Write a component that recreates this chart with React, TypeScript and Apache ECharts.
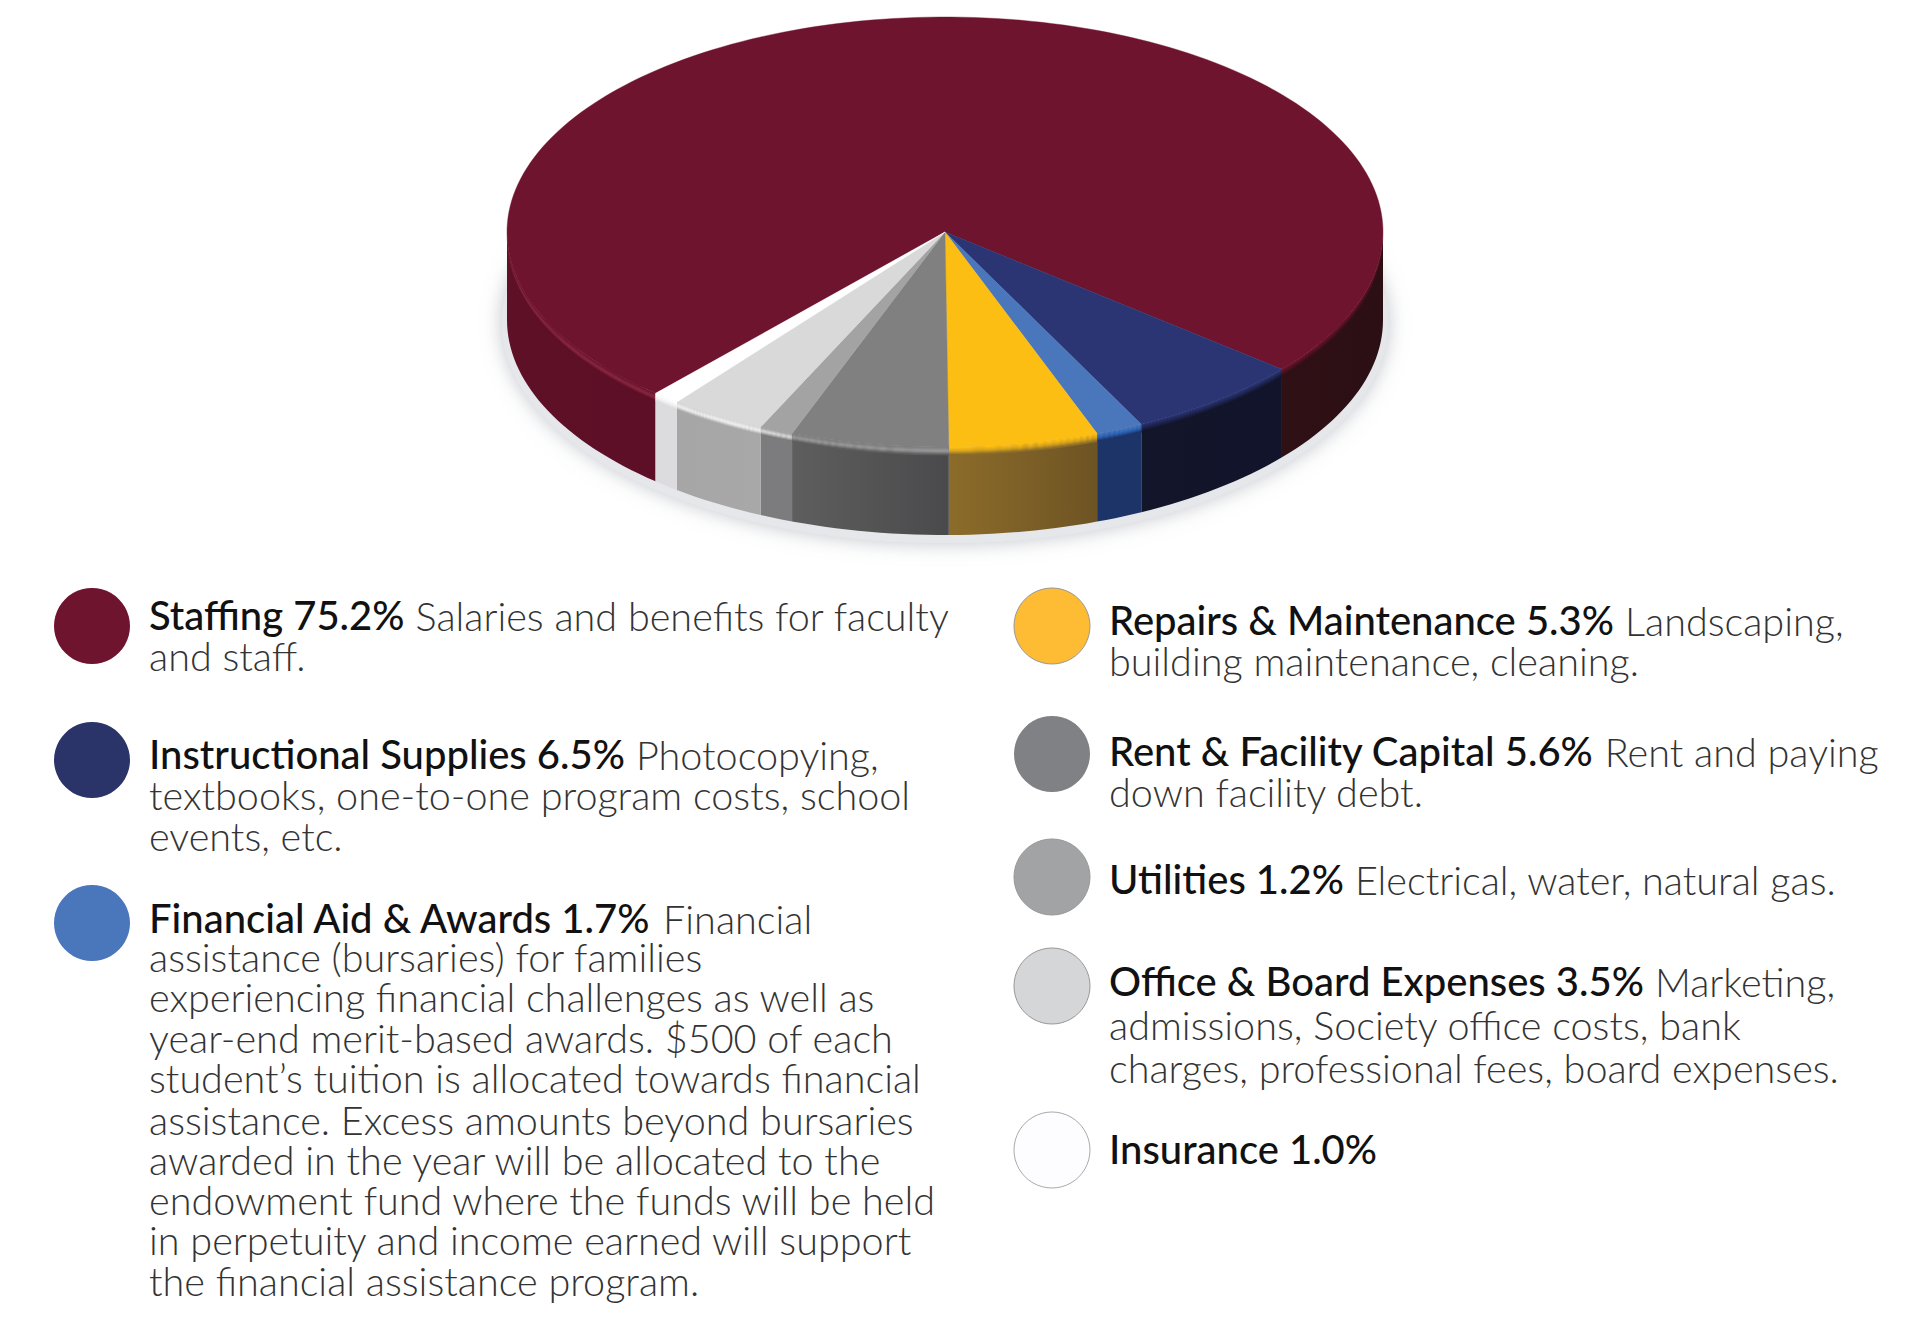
import React, { useEffect, useRef } from "react";
import * as echarts from "echarts";

// Data, in legend order (clockwise around the pie)
const categories = ["Staffing", "Instructional Supplies", "Financial Aid & Awards", "Repairs & Maintenance", "Rent & Facility Capital", "Utilities", "Office & Board Expenses", "Insurance"];
const shares = [75.2, 6.5, 1.7, 5.3, 5.6, 1.2, 3.5, 1.0];
const descriptions = [
  ["Salaries and benefits for faculty", "and staff."],
  ["Photocopying,", "textbooks, one-to-one program costs, school", "events, etc."],
  ["Financial", "assistance (bursaries) for families", "experiencing financial challenges as well as", "year-end merit-based awards. $500 of each", "student’s tuition is allocated towards financial", "assistance. Excess amounts beyond bursaries", "awarded in the year will be allocated to the", "endowment fund where the funds will be held", "in perpetuity and income earned will support", "the financial assistance program."],
  ["Landscaping,", "building maintenance, cleaning."],
  ["Rent and paying", "down facility debt."],
  ["Electrical, water, natural gas."],
  ["Marketing,", "admissions, Society office costs, bank", "charges, professional fees, board expenses."],
  [""],
];

// Styles
const topColors = ["#6F142E", "#2B3574", "#4A76BC", "#FDBE13", "#808080", "#A3A3A3", "#D9D9D9", "#FFFFFF"];
const swatchColors = ["#6F142E", "#2B3468", "#4A76BC", "#FDBC33", "#808184", "#A2A3A5", "#D5D6D8", "#FDFDFF"];
const swatchBorders = ["none", "none", "none", "#999", "none", "#999", "#999", "#aaa"];
const sideFills = [
  [["#2E1015", "#2C0F14"], ["#5E1027", "#5C0F26"]],
  [["#13152B", "#11142A"]],
  [["#1C3468", "#1C3468"]],
  [["#8C6C2A", "#6E5424"]],
  [["#5E5E5E", "#4A4A4C"]],
  [["#7C7C7E", "#7C7C7E"]],
  [["#A6A6A6", "#A8A8A8"]],
  [["#DCDCDE", "#DCDCDE"]],
];
const bevelRamps = [
  [["#6F142E", "#4A1220", "#2E1015"], ["#6F142E", "#8C2A44", "#5E1027"]],
  [["#2B3574", "#1E2550", "#13152B"]],
  [["#4A76BC", "#2A65B8", "#1C3468"]],
  [["#FDBE13", "#D8A31C", "#8C6C2A"]],
  [["#808080", "#9A9A9A", "#5E5E5E"]],
  [["#A3A3A3", "#DDDDDD", "#7C7C7E"]],
  [["#D9D9D9", "#F2F2F2", "#A8A8A8"]],
  [["#FFFFFF", "#F4F4F4", "#DCDCDE"]],
];

// Layout
const cx = 945, cy = 232, rx = 438, ry = 215, depth = 88, bevel = 8;
const startAngle = -139.32;
const FONT = "Lato";
const headSize = 40, bodySize = 39.6;
const legendLayout = [
  { x: 92, cy: 626, tx: 149, ys: [615, 655] },
  { x: 92, cy: 760, tx: 149, ys: [754, 794, 835] },
  { x: 92, cy: 923, tx: 149, ys: [918, 956, 996, 1037, 1077, 1119, 1159, 1199, 1239, 1280] },
  { x: 1052, cy: 626, tx: 1109, ys: [620, 660] },
  { x: 1052, cy: 754, tx: 1109, ys: [751, 791] },
  { x: 1052, cy: 877, tx: 1109, ys: [879] },
  { x: 1052, cy: 986, tx: 1109, ys: [981, 1024, 1067] },
  { x: 1052, cy: 1150, tx: 1109, ys: [1149] },
];

const total = shares.reduce((a, b) => a + b, 0);
const rad = (d: number) => (d * Math.PI) / 180;
// The tilted disc shows its near side slightly magnified
const warp = (d: number) => d - 0.5 + 1.2 * Math.sin(rad(2 * d));
const rim = (deg: number, dy = 0) => [cx + rx * Math.sin(rad(deg)), cy - ry * Math.cos(rad(deg)) + dy];
const arcPts = (a: number, b: number, dy = 0) => {
  const n = Math.max(2, Math.ceil((b - a) / 1.5));
  const out: number[][] = [];
  for (let i = 0; i <= n; i++) out.push(rim(a + ((b - a) * i) / n, dy));
  return out;
};
const hex = (c: string) => [1, 3, 5].map((i) => parseInt(c.slice(i, i + 2), 16));
const ramp = (cols: string[], f: number) => {
  const p = f * (cols.length - 1);
  const i = Math.min(cols.length - 2, Math.floor(p));
  const u = p - i;
  const a = hex(cols[i]), b = hex(cols[i + 1]);
  return `rgb(${a.map((v, k) => Math.round(v + (b[k] - v) * u)).join(",")})`;
};

function renderSlice(params: any, api: any) {
  const i = params.dataIndex;
  const before = shares.slice(0, i).reduce((a, b) => a + b, 0);
  const rawA = startAngle + (before / total) * 360;
  const a = warp(rawA);
  const b = warp(rawA + (api.value(0) / total) * 360);
  const children: any[] = [];
  let piece = 0;
  for (const k of [0, -360]) {
    const lo = Math.max(a, 90 + k), hi = Math.min(b, 270 + k);
    if (hi <= lo) continue;
    const fill = sideFills[i][piece] || sideFills[i][0];
    const bev = bevelRamps[i][piece] || bevelRamps[i][0];
    const top = arcPts(lo, hi, 0);
    const bottom = arcPts(lo, hi, depth).reverse();
    children.push({
      type: "polygon",
      shape: { points: [...top, ...bottom] },
      style: {
        fill: { type: "linear", x: 0, y: 0, x2: 1, y2: 0, colorStops: [{ offset: 0, color: fill[0] }, { offset: 1, color: fill[1] }] },
      },
    });
    for (let s = 0; s < bevel; s++) {
      const up = arcPts(lo, hi, s);
      const down = arcPts(lo, hi, s + 1.4).reverse();
      children.push({ type: "polygon", shape: { points: [...up, ...down] }, style: { fill: ramp(bev, s / (bevel - 1)) } });
    }
    piece++;
  }
  children.push({
    type: "polygon",
    shape: { points: [[cx, cy], ...arcPts(a, b, 0)] },
    style: { fill: topColors[i], stroke: topColors[i], lineWidth: 0.4 },
  });
  return { type: "group", children };
}

function legendElements() {
  const ctx = document.createElement("canvas").getContext("2d")!;
  const headFont = `500 ${headSize}px ${FONT}`;
  const bodyFont = `300 ${bodySize}px ${FONT}`;
  const els: any[] = [];
  categories.forEach((name, i) => {
    const L = legendLayout[i];
    els.push({
      type: "circle",
      shape: { cx: L.x, cy: L.cy, r: 38 },
      style: { fill: swatchColors[i], stroke: swatchBorders[i] === "none" ? undefined : swatchBorders[i], lineWidth: 1 },
    });
    const head = `${name} ${shares[i].toFixed(1)}%`;
    ctx.font = headFont;
    const headW = ctx.measureText(head).width + 11;
    els.push({
      type: "text",
      x: L.tx,
      y: L.ys[0],
      style: { text: head, font: headFont, fill: "#111111", verticalAlign: "middle", align: "left" },
    });
    descriptions[i].forEach((line, j) => {
      if (!line) return;
      els.push({
        type: "text",
        x: j === 0 ? L.tx + headW : L.tx,
        y: L.ys[j],
        style: { text: line, font: bodyFont, fill: "#333333", verticalAlign: "middle", align: "left" },
      });
    });
  });
  return els;
}

export default function App() {
  const ref = useRef<HTMLDivElement>(null);
  useEffect(() => {
    document.body.style.margin = "0";
    const chart = echarts.init(ref.current!, undefined, { renderer: "svg" });
    chart.setOption({
      animation: false,
      backgroundColor: "#ffffff",
      graphic: {
        elements: [
          {
            type: "ellipse",
            z: 0,
            shape: { cx: cx, cy: cy + depth + 3, rx: rx + 5, ry: ry + 5 },
            style: { fill: "#e6e7ea", shadowBlur: 20, shadowColor: "rgba(150,155,165,0.6)" },
          },
          ...legendElements(),
        ],
      },
      series: [
        {
          type: "custom",
          coordinateSystem: "none",
          silent: true,
          data: shares.map((v, i) => ({ name: categories[i], value: [v] })),
          renderItem: renderSlice,
        },
      ],
    });
    return () => chart.dispose();
  }, []);
  return <div ref={ref} style={{ width: 1920, height: 1344 }} />;
}
